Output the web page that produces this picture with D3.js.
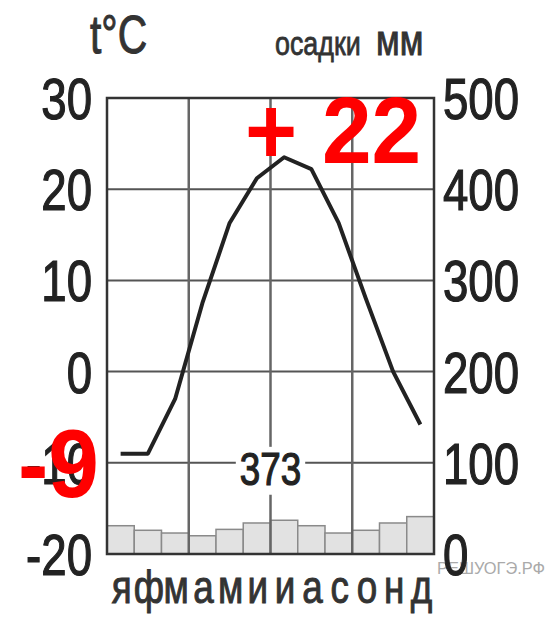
<!DOCTYPE html>
<html>
<head>
<meta charset="utf-8">
<script src="https://cdn.jsdelivr.net/npm/d3@7"></script>
<style>
  html, body { margin: 0; padding: 0; background: #fff; }
  svg { display: block; font-family: "Liberation Sans", Arial, sans-serif; }
</style>
</head>
<body>
<svg width="558" height="620"></svg>
<script>
// месяцы (подписи по оси X)
const months = ["я", "ф", "м", "а", "м", "и", "и", "а", "с", "о", "н", "д"];
// средняя температура, °C
const temperature = [-9, -9, -3, 7.5, 16.3, 21.2, 23.5, 22.2, 16.3, 8, 0, -5.8];
// осадки, мм
const precipitation = [31, 26, 23, 20, 27, 34, 37, 31, 23, 26, 34, 41];
// подписи осей
const tempTicks = [30, 20, 10, 0, -10, -20];
const precTicks = [500, 400, 300, 200, 100, 0];
const annualTotal = "373";
const noteMax = "+ 22";
const noteMin = "-9";

const svg = d3.select("svg");

// область графика
const area = { left: 107, right: 434, top: 98, bottom: 554 };
const sx = 0.8; // сжатие шрифта по горизонтали

const scX = d3.scaleBand()
    .domain(d3.range(months.length))
    .range([area.left, area.right])
    .padding(0);

const scT = d3.scaleLinear().domain([-20, 30]).range([area.bottom, area.top]);
const scP = d3.scaleLinear().domain([0, 500]).range([area.bottom, area.top]);

// чуть "утолщённый" текст, как на скане
function ink(sel, color, w) {
    sel.style("fill", color)
        .style("stroke", color)
        .style("stroke-width", w)
        .style("paint-order", "stroke");
}

// столбики осадков
svg.append("g")
    .selectAll("rect")
    .data(precipitation)
    .enter()
    .append("rect")
    .attr("x", (d, i) => scX(i))
    .attr("y", d => scP(d))
    .attr("width", scX.bandwidth())
    .attr("height", d => scP(0) - scP(d))
    .style("fill", "#e2e2e2")
    .style("stroke", "#8a8a8a")
    .style("stroke-width", 1.5);

// сетка: горизонтальные линии
svg.append("g")
    .selectAll("line")
    .data(tempTicks)
    .enter()
    .append("line")
    .attr("x1", area.left)
    .attr("x2", area.right)
    .attr("y1", d => scT(d))
    .attr("y2", d => scT(d))
    .style("stroke", "#555")
    .style("stroke-width", 2);

// сетка: вертикальные линии (по кварталам)
svg.append("g")
    .selectAll("line")
    .data([3, 6, 9])
    .enter()
    .append("line")
    .attr("x1", d => scX(d))
    .attr("x2", d => scX(d))
    .attr("y1", area.top)
    .attr("y2", area.bottom)
    .style("stroke", "#666")
    .style("stroke-width", 2.5);

// подпись годовой суммы осадков на белом фоне
const total = svg.append("g")
    .attr("transform", `translate(${scX(6)}, ${scT(-10) + 22}) scale(${sx}, 1)`);
const totalText = total.append("text")
    .attr("text-anchor", "middle")
    .style("font-size", "46px")
    .text(annualTotal)
    .call(ink, "#222", 1.2);
const bb = totalText.node().getBBox();
total.insert("rect", "text")
    .attr("x", bb.x - 5)
    .attr("y", bb.y + 4)
    .attr("width", bb.width + 10)
    .attr("height", bb.height - 4)
    .style("fill", "#fff");

// рамка
svg.append("rect")
    .attr("x", area.left)
    .attr("y", area.top)
    .attr("width", area.right - area.left)
    .attr("height", area.bottom - area.top)
    .style("fill", "none")
    .style("stroke", "#333")
    .style("stroke-width", 2.5);

// график температуры
const line = d3.line()
    .x((d, i) => scX(i) + scX.bandwidth() / 2)
    .y(d => scT(d));

svg.append("path")
    .datum(temperature)
    .attr("d", line)
    .style("fill", "none")
    .style("stroke", "#222")
    .style("stroke-width", 4)
    .style("stroke-linejoin", "round");

// оси (только подписи)
function styleAxis(g, dx) {
    g.select(".domain").remove();
    g.selectAll("text")
        .attr("x", dx / sx)
        .attr("dy", "0.36em")
        .attr("transform", `scale(${sx}, 1)`)
        .style("font-size", "57px")
        .style("font-family", "'Liberation Sans', Arial, sans-serif")
        .call(ink, "#222", 1.2);
}

svg.append("g")
    .attr("transform", `translate(${area.left}, 0)`)
    .call(d3.axisLeft(scT).tickValues(tempTicks).tickSize(0).tickFormat(d => String(d)))
    .call(g => styleAxis(g, -15));

// водяной знак
svg.append("text")
    .attr("x", 437)
    .attr("y", 574)
    .attr("textLength", 108)
    .attr("lengthAdjust", "spacingAndGlyphs")
    .style("font-size", "16px")
    .style("fill", "#aaa")
    .text("РЕШУОГЭ.РФ");

svg.append("g")
    .attr("transform", `translate(${area.right}, 0)`)
    .call(d3.axisRight(scP).tickValues(precTicks).tickSize(0).tickFormat(d => String(d)))
    .call(g => styleAxis(g, 9));

// месяцы
svg.append("g")
    .selectAll("text")
    .data(months)
    .enter()
    .append("text")
    .attr("transform", (d, i) => `translate(${scX(i) + scX.bandwidth() / 2 + 1}, 603) scale(${sx}, 1)`)
    .attr("text-anchor", "middle")
    .style("font-size", "46px")
    .text(d => d)
    .call(ink, "#333", 1);

// заголовки осей
svg.append("text")
    .attr("transform", "translate(90, 53) scale(0.77, 1)")
    .style("font-size", "53px")
    .text("t°C")
    .call(ink, "#333", 1);

svg.append("text")
    .attr("transform", "translate(275, 55) scale(0.79, 1)")
    .style("font-size", "34px")
    .text("осадки")
    .call(ink, "#333", 0.8);

svg.append("text")
    .attr("transform", "translate(376, 55) scale(0.8, 1)")
    .style("font-size", "43px")
    .text("мм")
    .call(ink, "#333", 1);

// красные пометки
svg.append("text")
    .attr("transform", "translate(245, 163) scale(0.95, 1)")
    .style("font-size", "94px")
    .style("font-weight", "bold")
    .style("fill", "#ff0000")
    .text(noteMax);

svg.append("text")
    .attr("transform", "translate(18, 497) scale(0.95, 1)")
    .style("font-size", "96px")
    .style("font-weight", "bold")
    .style("fill", "#ff0000")
    .text(noteMin);
</script>
</body>
</html>
